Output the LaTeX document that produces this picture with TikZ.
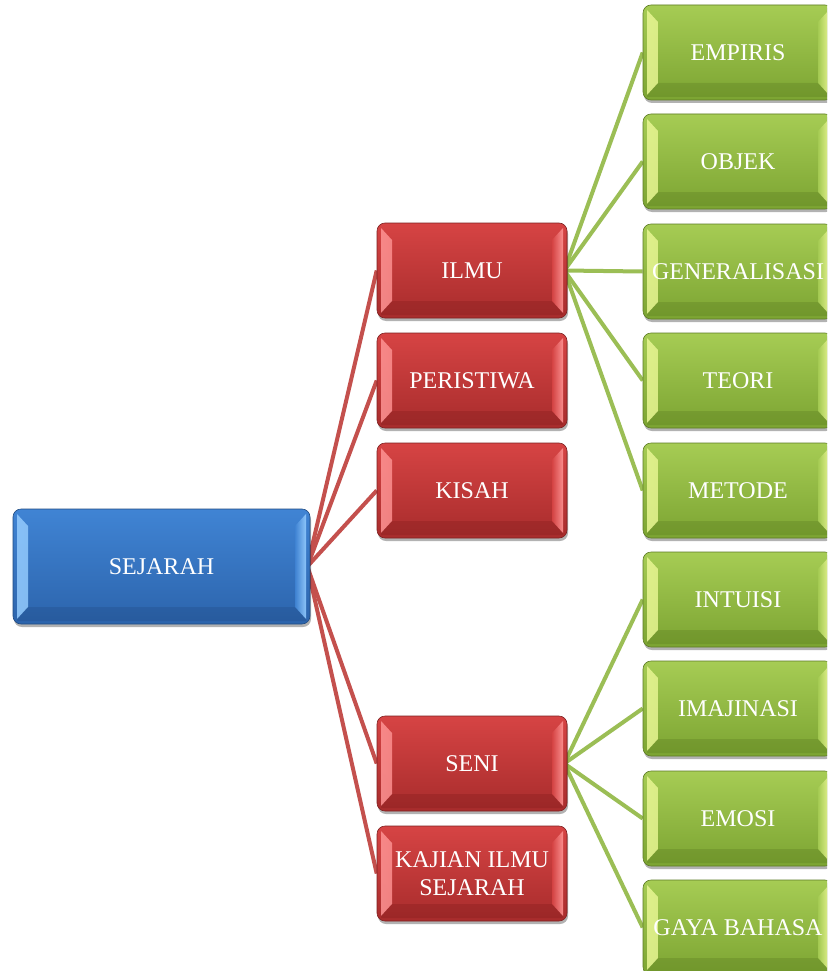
\documentclass[tikz,border=0pt]{standalone}
\usepackage{fontspec}
\setmainfont{Liberation Serif}
\usetikzlibrary{calc,shadows,backgrounds}
\definecolor{bluetop}{RGB}{64,132,212}
\definecolor{bluebot}{RGB}{44,100,172}
\definecolor{bluelight}{RGB}{150,205,255}
\definecolor{bluedark}{RGB}{25,60,110}
\definecolor{redtop}{RGB}{214,68,68}
\definecolor{redbot}{RGB}{168,44,44}
\definecolor{redlight}{RGB}{255,150,150}
\definecolor{reddark}{RGB}{110,20,20}
\definecolor{greentop}{RGB}{166,204,84}
\definecolor{greenbot}{RGB}{124,164,50}
\definecolor{greenlight}{RGB}{235,248,150}
\definecolor{greendark}{RGB}{70,100,20}
\definecolor{redline}{RGB}{196,80,77}
\definecolor{greenline}{RGB}{155,190,85}
\tikzset{
  bevelbox/.style n args={4}{
    rectangle, rounded corners=8pt, minimum width=190pt, minimum height=95pt,
    inner sep=2pt, top color=#1, bottom color=#2, draw=#2!75!black, line width=0.6pt,
    text=white, font=\fontsize{24}{28}\selectfont, align=center,
    drop shadow={shadow xshift=1pt, shadow yshift=-3pt, opacity=0.3, fill=black},
    path picture={
      \path[sharp corners, left color=#3, right color=#1, opacity=0.85]
        let \p1=(path picture bounding box.north west), \p2=(path picture bounding box.south east) in
        (\x1+4pt,\y1-5pt) -- (\x1+15pt,\y1-17pt) -- (\x1+15pt,\y2+17pt) -- (\x1+4pt,\y2+5pt) -- cycle;
      \path[sharp corners, right color=#3, left color=#1, opacity=0.9]
        let \p1=(path picture bounding box.north west), \p2=(path picture bounding box.south east) in
        (\x2-4pt,\y1-5pt) -- (\x2-15pt,\y1-17pt) -- (\x2-15pt,\y2+17pt) -- (\x2-4pt,\y2+5pt) -- cycle;
      \fill[sharp corners, #4, opacity=0.22]
        let \p1=(path picture bounding box.north west), \p2=(path picture bounding box.south east) in
        (\x1+4pt,\y2+5pt) -- (\x1+15pt,\y2+17pt) -- (\x2-15pt,\y2+17pt) -- (\x2-4pt,\y2+5pt) -- (\x2-4pt,\y2+3pt) -- (\x1+4pt,\y2+3pt) -- cycle;
    }
  },
  bluebox/.style={bevelbox={bluetop}{bluebot}{bluelight}{bluedark}, minimum width=297pt, minimum height=115pt},
  redbox/.style={bevelbox={redtop}{redbot}{redlight}{reddark}},
  greenbox/.style={bevelbox={greentop}{greenbot}{greenlight}{greendark}},
  redconn/.style={draw=redline, line width=4pt},
  greenconn/.style={draw=greenline, line width=4pt},
}
\begin{document}
\begin{tikzpicture}[x=1pt,y=1pt]
\useasboundingbox (0,0) rectangle (827,-971);
\clip (0,0) rectangle (827,-971);

\node[bluebox] (sej) at (161.5,-566.5) {SEJARAH};

\node[redbox] (ilmu)   at (472,-270.5) {ILMU};
\node[redbox] (peris)  at (472,-380.5) {PERISTIWA};
\node[redbox] (kisah)  at (472,-490.5) {KISAH};
\node[redbox] (seni)   at (472,-763.5) {SENI};
\node[redbox] (kajian) at (472,-873.5) {KAJIAN ILMU\\SEJARAH};

\node[greenbox] (emp)    at (738,-52.5)  {EMPIRIS};
\node[greenbox] (obj)    at (738,-161.5) {OBJEK};
\node[greenbox] (gen)    at (738,-271.5) {GENERALISASI};
\node[greenbox] (teori)  at (738,-380.5) {TEORI};
\node[greenbox] (metode) at (738,-490.5) {METODE};
\node[greenbox] (intu)   at (738,-599.5) {INTUISI};
\node[greenbox] (imaj)   at (738,-708.5) {IMAJINASI};
\node[greenbox] (emosi)  at (738,-818.5) {EMOSI};
\node[greenbox] (gaya)   at (738,-927.5) {GAYA BAHASA};

\begin{pgfonlayer}{background}
\fill[white] (0,0) rectangle (827,-971);
\foreach \t in {ilmu,peris,kisah,seni,kajian}
  \draw[redconn] ($(sej.east)+(-3,0)$) -- (\t.west);
\foreach \t in {emp,obj,gen,teori,metode}
  \draw[greenconn] ($(ilmu.east)+(-3,0)$) -- (\t.west);
\foreach \t in {intu,imaj,emosi,gaya}
  \draw[greenconn] ($(seni.east)+(-3,0)$) -- (\t.west);
\end{pgfonlayer}
\end{tikzpicture}
\end{document}
